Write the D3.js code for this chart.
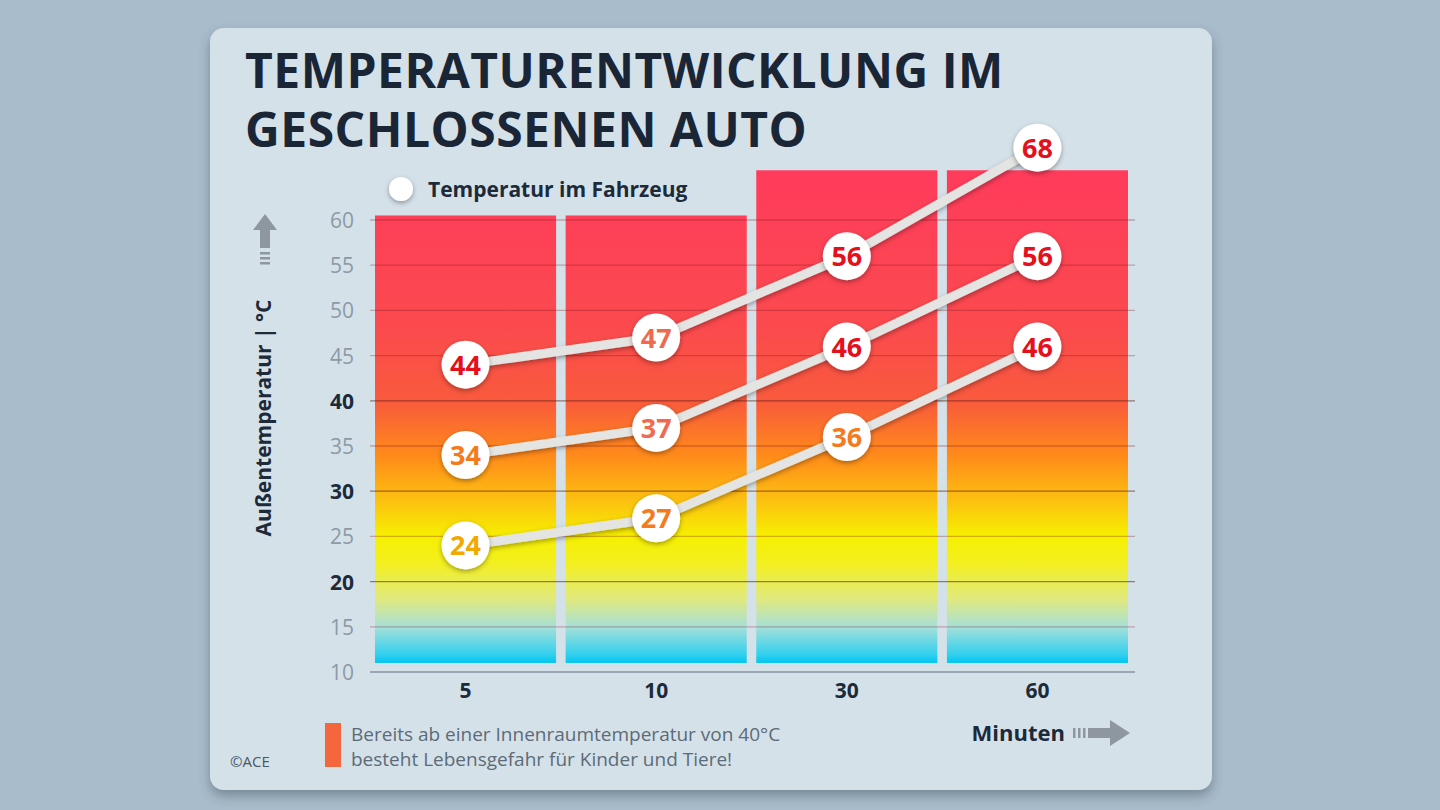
<!DOCTYPE html>
<html><head><meta charset="utf-8">
<script src="https://cdn.jsdelivr.net/npm/d3@7"></script>
<style>body{margin:0;background:#a9bccb;font-family:"Open Sans","Noto Sans",sans-serif}</style>
</head><body><svg id="c" width="1440" height="810"></svg>
<script>
// chart values
const minutes = ["5", "10", "30", "60"];
const barTops = [60.5, 60.5, 65.5, 65.5];
const seriesHigh = [44, 47, 56, 68];
const seriesMid = [34, 37, 46, 56];
const seriesLow = [24, 27, 36, 46];
const yTicks = [10, 15, 20, 25, 30, 35, 40, 45, 50, 55, 60];
const boldTicks = [20, 30, 40];

const svg = d3.select("#c");
const defs = svg.append("defs");

// card shadow
const sh = defs.append("filter").attr("id", "sh").attr("x", "-10%").attr("y", "-10%").attr("width", "120%").attr("height", "125%");
sh.append("feDropShadow").attr("dx", 0).attr("dy", 6).attr("stdDeviation", 6).attr("flood-color", "#3a4a58").attr("flood-opacity", 0.45);
const ds = defs.append("filter").attr("id", "ds").attr("x", "-50%").attr("y", "-50%").attr("width", "200%").attr("height", "200%");
ds.append("feDropShadow").attr("dx", 0).attr("dy", 2).attr("stdDeviation", 2.5).attr("flood-color", "#000").attr("flood-opacity", 0.35);

svg.append("rect").attr("x", 210).attr("y", 28).attr("width", 1002).attr("height", 762)
  .attr("rx", 14).attr("fill", "#d5e1e9").attr("filter", "url(#sh)");

const y = d3.scaleLinear().domain([10, 60]).range([672, 220]);
const x = d3.scaleBand().domain(minutes).range([375, 1128]).paddingInner(0.05).paddingOuter(0);

// temperature gradient in data space
const grad = defs.append("linearGradient").attr("id", "g").attr("gradientUnits", "userSpaceOnUse")
  .attr("x1", 0).attr("x2", 0).attr("y1", y(66)).attr("y2", y(11));
[[66, "#ff3b5c"], [48, "#fb4a4e"], [40, "#f95a3c"], [34, "#ff8a1a"], [29, "#fcc010"], [25, "#f6f000"], [22, "#f3ef20"], [18, "#dfe980"], [15, "#a6e0d8"], [12, "#36d0ee"], [11, "#00c6f2"]]
  .forEach(([v, c]) => grad.append("stop").attr("offset", (66 - v) / 55).attr("stop-color", c));

svg.append("g").selectAll("rect").data(minutes).join("rect")
  .attr("x", d => x(d)).attr("width", x.bandwidth())
  .attr("y", (d, i) => y(barTops[i])).attr("height", (d, i) => y(11) - y(barTops[i]))
  .attr("fill", "url(#g)");

// grid lines
svg.append("g").selectAll("line").data(yTicks.filter(t => t > 10)).join("line")
  .attr("x1", 370).attr("x2", 1135).attr("y1", d => y(d)).attr("y2", d => y(d))
  .attr("stroke", d => boldTicks.includes(d) ? "rgba(90,30,20,0.55)" : "rgba(120,20,30,0.3)")
  .attr("stroke-width", 1.3);
svg.append("line").attr("x1", 370).attr("x2", 1135).attr("y1", y(10)).attr("y2", y(10))
  .attr("stroke", "#9aa8b4").attr("stroke-width", 2);

// y tick labels
svg.append("g").selectAll("text").data(yTicks).join("text")
  .attr("x", 354).attr("y", d => y(d) + 8).attr("text-anchor", "end")
  .attr("font-size", 21).attr("font-weight", d => boldTicks.includes(d) ? 700 : 400)
  .attr("fill", d => boldTicks.includes(d) ? "#1c2a3a" : "#8c9aa6").text(d => d);

// x labels
svg.append("g").selectAll("text").data(minutes).join("text")
  .attr("x", d => x(d) + x.bandwidth() / 2).attr("y", 698).attr("text-anchor", "middle")
  .attr("font-size", 21).attr("font-weight", 700).attr("fill", "#1c2a3a").text(d => d);

// lines and points
const cx = d => x(d) + x.bandwidth() / 2;
const labelColor = v => v >= 44 && v !== 47 ? "#e4101c" : v >= 37 ? "#f06a50" : v >= 27 ? "#f57a1e" : "#f2a800";
[seriesHigh, seriesMid, seriesLow].forEach(s => {
  const pts = s.map((v, i) => [cx(minutes[i]), y(v)]);
  svg.append("path").attr("d", d3.line()(pts)).attr("fill", "none")
    .attr("stroke", "#e4e4e2").attr("stroke-width", 9).attr("filter", "url(#ds)");
  const g = svg.append("g").selectAll("g").data(s).join("g")
    .attr("transform", (v, i) => `translate(${cx(minutes[i])},${y(v)})`);
  g.append("circle").attr("r", 24).attr("fill", "#fff").attr("filter", "url(#ds)");
  g.append("text").attr("text-anchor", "middle").attr("y", 10).attr("font-size", 27)
    .attr("font-weight", 700).attr("fill", labelColor).text(v => v);
});

// title
svg.append("text").attr("x", 245).attr("y", 88).attr("font-size", 48).attr("font-weight", 700)
  .attr("fill", "#1a2636").attr("letter-spacing", 0.5).text("TEMPERATURENTWICKLUNG IM");
svg.append("text").attr("x", 245).attr("y", 147).attr("font-size", 48).attr("font-weight", 700)
  .attr("fill", "#1a2636").attr("letter-spacing", 0.5).text("GESCHLOSSENEN AUTO");

// legend
svg.append("circle").attr("cx", 401).attr("cy", 189).attr("r", 12).attr("fill", "#fff").attr("filter", "url(#ds)");
svg.append("text").attr("x", 428).attr("y", 197).attr("font-size", 21).attr("font-weight", 700)
  .attr("fill", "#1c2a3a").text("Temperatur im Fahrzeug");

// y axis title and arrow
svg.append("text").attr("transform", "translate(271,418) rotate(-90)").attr("text-anchor", "middle")
  .attr("font-size", 21).attr("font-weight", 700).attr("fill", "#1c2a3a").text("Außentemperatur | °C");
svg.append("path").attr("d", "M265,214 L277,230 L270,230 L270,248 L260,248 L260,230 L253,230 Z").attr("fill", "#8e979f");
[252, 257, 262].forEach(yy => svg.append("rect").attr("x", 260).attr("y", yy).attr("width", 10).attr("height", 2.5).attr("fill", "#8e979f"));

// footer
svg.append("rect").attr("x", 325).attr("y", 723).attr("width", 16).attr("height", 44).attr("fill", "#f4673c");
const ft = svg.append("text").attr("font-size", 19).attr("fill", "#5c6b78");
ft.append("tspan").attr("x", 351).attr("y", 741).text("Bereits ab einer Innenraumtemperatur von 40°C");
ft.append("tspan").attr("x", 351).attr("y", 766).text("besteht Lebensgefahr für Kinder und Tiere!");
svg.append("text").attr("x", 230).attr("y", 767).attr("font-size", 15).attr("fill", "#4a5866").text("©ACE");
svg.append("text").attr("x", 1065).attr("y", 741).attr("text-anchor", "end").attr("font-size", 22)
  .attr("font-weight", 700).attr("fill", "#1c2a3a").text("Minuten");
[1073, 1078, 1083].forEach(xx => svg.append("rect").attr("x", xx).attr("y", 728).attr("width", 2.5).attr("height", 10).attr("fill", "#8e979f"));
svg.append("path").attr("d", "M1088,728 L1110,728 L1110,720 L1130,733 L1110,746 L1110,738 L1088,738 Z").attr("fill", "#8e979f");
</script></body></html>
